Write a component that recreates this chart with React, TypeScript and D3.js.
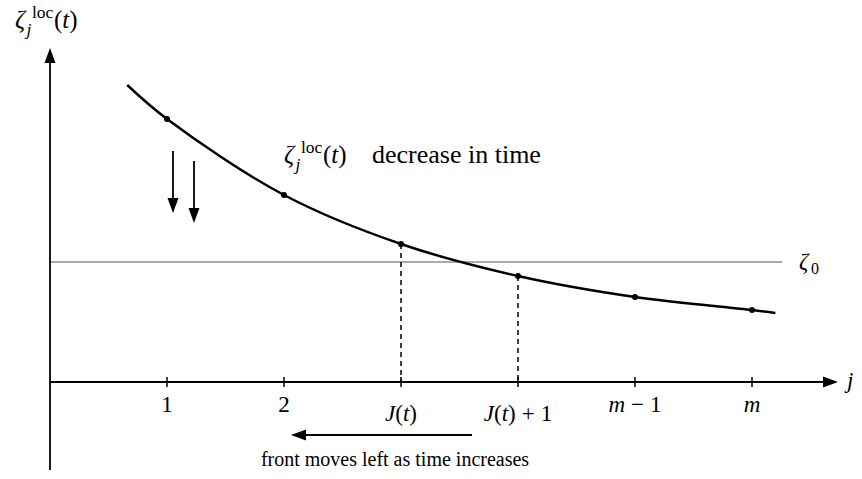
import React from 'react';
import * as d3 from 'd3';

// marked sites on the j axis and their values
const sites = [1, 2, 3, 4, 5, 6];
const siteLabels = [
  [{ t: '1' }],
  [{ t: '2' }],
  [{ t: 'J', i: true }, { t: '(' }, { t: 't', i: true }, { t: ')' }],
  [{ t: 'J', i: true }, { t: '(' }, { t: 't', i: true }, { t: ')' }, { t: '+', dx: 6 }, { t: '1', dx: 6 }],
  [{ t: 'm', i: true }, { t: '−', dx: 6 }, { t: '1', dx: 6 }],
  [{ t: 'm', i: true }],
];
const siteValues = [263, 187, 138, 106, 85, 72];

// the curve runs a bit beyond the first and last marked site
const curveJ = [0.66, 1, 2, 3, 4, 5, 6, 6.2];
const curveV = [297, 263, 187, 138, 106, 85, 72, 69];

const zeta0 = 120;
const dashedSites = [3, 4];

const W = 862, H = 479;
const FONT = '"Liberation Serif", "DejaVu Serif", serif';

function Zeta({ x, y, size = 25 }) {
  const s = size * 0.7;
  return (
    <g fontFamily={FONT} fill="#000">
      <text x={x} y={y} fontSize={size} fontStyle="italic">ζ</text>
      <text x={x + 11.5} y={y + 7} fontSize={s} fontStyle="italic">j</text>
      <text x={x + 17} y={y - 10} fontSize={s}>loc</text>
      <text x={x + 39} y={y} fontSize={size}>
        (<tspan fontStyle="italic">t</tspan>)
      </text>
    </g>
  );
}

function arrowHead(tx, ty, dx, dy, len = 15, half = 5.5) {
  // tip at (tx, ty), pointing along (dx, dy)
  const bx = tx - dx * len, by = ty - dy * len;
  const px = -dy * half, py = dx * half;
  return `${tx},${ty} ${bx + px},${by + py} ${bx - px},${by - py}`;
}

export default function App() {
  const x = d3.scaleLinear().domain([0, 6]).range([50, 752]);
  const y = d3.scaleLinear().domain([0, 300]).range([382, 82]);

  const line = d3.line<number>()
    .x((d, i) => x(curveJ[i]))
    .y((d) => y(d))
    .curve(d3.curveCatmullRom.alpha(0.5));

  const x0 = x(0), yAxis0 = y(0);
  const xTip = x(6.735), yTip = y(334), yBottom = y(-88);

  return (
    <svg width={W} height={H} style={{ position: 'absolute', left: 0, top: 0 }}>
      <rect width={W} height={H} fill="#fff" />

      {/* zeta_0 level */}
      <line x1={x0} x2={x(6.26)} y1={y(zeta0)} y2={y(zeta0)} stroke="#aaa" strokeWidth={2} />
      <text x={799} y={y(zeta0) + 7} fontFamily={FONT} fontSize={23} fontStyle="italic">ζ</text>
      <text x={811} y={y(zeta0) + 12} fontFamily={FONT} fontSize={16}>0</text>

      {/* axes */}
      <line x1={x0} x2={xTip - 10} y1={yAxis0} y2={yAxis0} stroke="#000" strokeWidth={1.8} />
      <polygon points={arrowHead(xTip, yAxis0, 1, 0)} fill="#000" />
      <line x1={x0} x2={x0} y1={yBottom} y2={yTip + 10} stroke="#000" strokeWidth={1.8} />
      <polygon points={arrowHead(x0, yTip, 0, -1)} fill="#000" />
      <text x={847} y={yAxis0 + 6} fontFamily={FONT} fontSize={23} fontStyle="italic">j</text>
      <Zeta x={15} y={28} />

      {/* ticks and labels */}
      {sites.map((s, i) => {
        const lowered = i >= 2 && i <= 3;
        return (
          <g key={s}>
            <line x1={x(s)} x2={x(s)} y1={yAxis0 - 5} y2={yAxis0 + 5} stroke="#000" strokeWidth={1.5} />
            <text x={x(s)} y={lowered ? 421 : 412} textAnchor="middle" fontFamily={FONT} fontSize={23}>
              {siteLabels[i].map((p, k) => (
                <tspan key={k} dx={p.dx || 0} fontStyle={p.i ? 'italic' : 'normal'}>{p.t}</tspan>
              ))}
            </text>
          </g>
        );
      })}

      {/* dashed drops */}
      {dashedSites.map((s) => (
        <line key={s} x1={x(s)} x2={x(s)} y1={y(siteValues[s - 1])} y2={yAxis0}
          stroke="#000" strokeWidth={1.5} strokeDasharray="5,4" />
      ))}

      {/* the profile */}
      <path d={line(curveV) || ''} fill="none" stroke="#000" strokeWidth={2.5} />
      {sites.map((s, i) => (
        <circle key={s} cx={x(s)} cy={y(siteValues[i])} r={3} fill="#000" />
      ))}

      {/* decrease arrows */}
      <line x1={173} x2={173} y1={151} y2={202} stroke="#000" strokeWidth={1.8} />
      <polygon points={arrowHead(173, 213, 0, 1)} fill="#000" />
      <line x1={194} x2={194} y1={161} y2={212} stroke="#000" strokeWidth={1.8} />
      <polygon points={arrowHead(194, 223, 0, 1)} fill="#000" />
      <Zeta x={284} y={163} />
      <text x={372} y={163} fontFamily={FONT} fontSize={26}>decrease in time</text>

      {/* front motion */}
      <line x1={472} x2={300} y1={435} y2={435} stroke="#000" strokeWidth={1.8} />
      <polygon points={arrowHead(291, 435, -1, 0)} fill="#000" />
      <text x={395} y={466} textAnchor="middle" fontFamily={FONT} fontSize={20}>
        front moves left as time increases
      </text>
    </svg>
  );
}
